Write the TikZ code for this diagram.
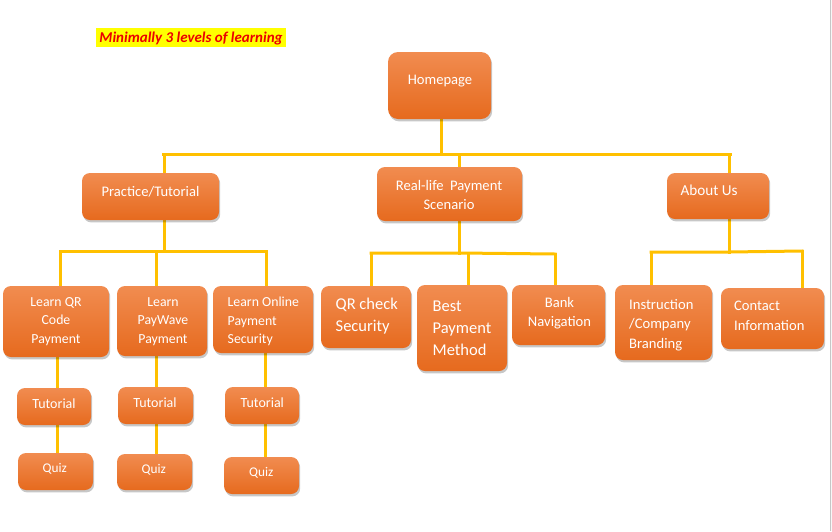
\documentclass[tikz,border=0pt]{standalone}
\usepackage{fontspec}
\setmainfont{Carlito}
\usetikzlibrary{shadows,calc}
\definecolor{boxtop}{RGB}{241,140,80}
\definecolor{boxbot}{RGB}{230,106,30}
\definecolor{conncol}{RGB}{255,192,0}
\definecolor{hilite}{RGB}{255,255,0}
\definecolor{titlered}{RGB}{235,0,0}
\pgfdeclarelayer{background}
\pgfdeclarelayer{bottom}
\pgfsetlayers{bottom,background,main}
\tikzset{
  box/.style={rectangle, rounded corners=8pt, top color=boxtop, bottom color=boxbot,
    draw=none, inner sep=0pt,
    drop shadow={shadow xshift=1.2pt, shadow yshift=-2.4pt, fill=black, opacity=0.22}},
  conn/.style={draw=conncol, line width=3pt, line cap=rect},
  txt/.style={text=white, inner sep=0pt, font=\fontsize{14.6}{19.5}\selectfont},
  txtsm/.style={txt, font=\fontsize{13.8}{18.7}\selectfont},
  txtbig/.style={txt, font=\fontsize{16.5}{21.8}\selectfont},
  title/.style={text=titlered, inner sep=0pt, font=\fontsize{15}{18}\selectfont\bfseries\itshape}
}
\begin{document}
\begin{tikzpicture}[x=1pt,y=-1pt]
\useasboundingbox (0,0) rectangle (832,531);
\begin{pgfonlayer}{bottom}
\fill[white] (0,0) rectangle (832,531);
\fill[gray!6] (830,0) rectangle (832,531);
\draw[gray!45, line width=0.8pt] (830,0) -- (830,531);
\end{pgfonlayer}

% title
\fill[hilite] (96,28) rectangle (286,47);
\node[title] (title) at (191,38.5) {Minimally 3 levels of learning};

% level 1
\node[box, rounded corners=10pt, minimum width=103pt, minimum height=67pt] (hp) at (439.5,85.5) {};
\node[txt] (hpT) at (440,81) {Homepage};

% level 2
\node[box, minimum width=137pt, minimum height=47pt] (pt) at (150.5,196.5) {};
\node[txt] (ptT) at (150.5,192) {Practice/Tutorial};
\node[box, minimum width=145pt, minimum height=54pt] (rl) at (449.5,194) {};
\node[txt, align=center] (rlT) at (449,195) {Real-life\ \ Payment\\Scenario};
\node[box, minimum width=102pt, minimum height=46pt] (au) at (718,196) {};
\node[txt, font=\fontsize{15.2}{19.5}\selectfont] (auT) at (709,190) {About Us};

% level 3
\node[box, minimum width=106pt, minimum height=71pt] (lq) at (56,321.5) {};
\node[txtsm, align=center] (lqT) at (56,321.5) {Learn QR\\Code\\Payment};
\node[box, minimum width=90pt, minimum height=70pt] (lp) at (162,321) {};
\node[txtsm, align=center] (lpT) at (163,321.5) {Learn\\PayWave\\Payment};
\node[box, minimum width=100pt, minimum height=67pt] (lo) at (263,319.5) {};
\node[txtsm, align=left, anchor=west] (loT) at (227.5,321.5) {Learn Online\\Payment\\Security};
\node[box, minimum width=90pt, minimum height=62pt] (qc) at (366,317) {};
\node[txtbig, align=left, anchor=west] (qcT) at (335.5,316) {QR check\\Security};
\node[box, minimum width=90pt, minimum height=86pt] (bp) at (462,328) {};
\node[txtbig, align=left, anchor=west] (bpT) at (432.5,328) {Best\\Payment\\Method};
\node[box, minimum width=93pt, minimum height=60pt] (bn) at (558.5,315) {};
\node[txt, align=center] (bnT) at (559.5,313) {Bank\\Navigation};
\node[box, minimum width=97pt, minimum height=75pt] (ic) at (663.5,322.5) {};
\node[txt, align=left, anchor=west] (icT) at (629,325) {Instruction\\/Company\\Branding};
\node[box, minimum width=103pt, minimum height=61pt] (ci) at (772.5,318.5) {};
\node[txt, align=left, anchor=west] (ciT) at (734,316) {Contact\\Information};

% level 4
\node[box, minimum width=74pt, minimum height=37pt] (t1) at (54,406.5) {};
\node[txt, font=\fontsize{14}{18}\selectfont] (t1T) at (54,403.5) {Tutorial};
\node[box, minimum width=75pt, minimum height=37pt] (t2) at (155.5,405.5) {};
\node[txt, font=\fontsize{14}{18}\selectfont] (t2T) at (155,402.8) {Tutorial};
\node[box, minimum width=74pt, minimum height=37pt] (t3) at (262,405.5) {};
\node[txt, font=\fontsize{14}{18}\selectfont] (t3T) at (262.3,402.8) {Tutorial};
\node[box, minimum width=75pt, minimum height=37pt] (q1) at (55.5,471.5) {};
\node[txt, font=\fontsize{13.3}{18}\selectfont] (q1T) at (54.7,468.3) {Quiz};
\node[box, minimum width=75pt, minimum height=36pt] (q2) at (154.5,472) {};
\node[txt, font=\fontsize{13.3}{18}\selectfont] (q2T) at (153.8,470) {Quiz};
\node[box, minimum width=75pt, minimum height=37pt] (q3) at (261.5,475.5) {};
\node[txt, font=\fontsize{13.3}{18}\selectfont] (q3T) at (261.3,472.7) {Quiz};

% junction coordinates
\coordinate (h0) at (441,154);
\coordinate (hL) at (163,154);
\coordinate (hR) at (730,154);
\coordinate (dpt) at (164,154);
\coordinate (drl) at (459,154);
\coordinate (dau) at (729,154);

\coordinate (pb) at (164,251);
\coordinate (pL) at (60,251);
\coordinate (pM) at (156,251);
\coordinate (pR) at (266,251);

\coordinate (rb) at (459,253);
\coordinate (rL) at (371,253);
\coordinate (rM) at (468,253);
\coordinate (rR) at (555,254);

\coordinate (ab) at (729,252);
\coordinate (aL) at (651,252);
\coordinate (aR) at (802,251);

\coordinate (v1) at (57,0);
\coordinate (v2) at (156,0);
\coordinate (v3) at (265,0);

\begin{pgfonlayer}{background}
  % level 1 -> 2
  \draw[conn] (hp.south -| h0) -- (h0);
  \draw[conn] (hL) -- (hR);
  \draw[conn] (dpt) -- (pt.north -| dpt);
  \draw[conn] (drl) -- (rl.north -| drl);
  \draw[conn] (dau) -- (au.north -| dau);
  % practice -> learn
  \draw[conn] (pt.south -| pb) -- (pb);
  \draw[conn] (pL) -- (pR);
  \draw[conn] (pL) -- (lq.north -| pL);
  \draw[conn] (pM) -- (lp.north -| pM);
  \draw[conn] (pR) -- (lo.north -| pR);
  % real-life -> children
  \draw[conn] (rl.south -| rb) -- (rb);
  \draw[conn] (rL) -- (rb) -- (rR);
  \draw[conn] (rL) -- (qc.north -| rL);
  \draw[conn] (rM) -- (bp.north -| rM);
  \draw[conn] (rR) -- (bn.north -| rR);
  % about -> children
  \draw[conn] (au.south -| ab) -- (ab);
  \draw[conn] (aL) -- (ab) -- (aR);
  \draw[conn] (aL) -- (ic.north -| aL);
  \draw[conn] (aR) -- (ci.north -| aR);
  % learn -> tutorial -> quiz
  \draw[conn] (lq.south -| v1) -- (t1.north -| v1);
  \draw[conn] (t1.south -| v1) -- (q1.north -| v1);
  \draw[conn] (lp.south -| v2) -- (t2.north -| v2);
  \draw[conn] (t2.south -| v2) -- (q2.north -| v2);
  \draw[conn] (lo.south -| v3) -- (t3.north -| v3);
  \draw[conn] (t3.south -| v3) -- (q3.north -| v3);
\end{pgfonlayer}
\end{tikzpicture}
\end{document}
